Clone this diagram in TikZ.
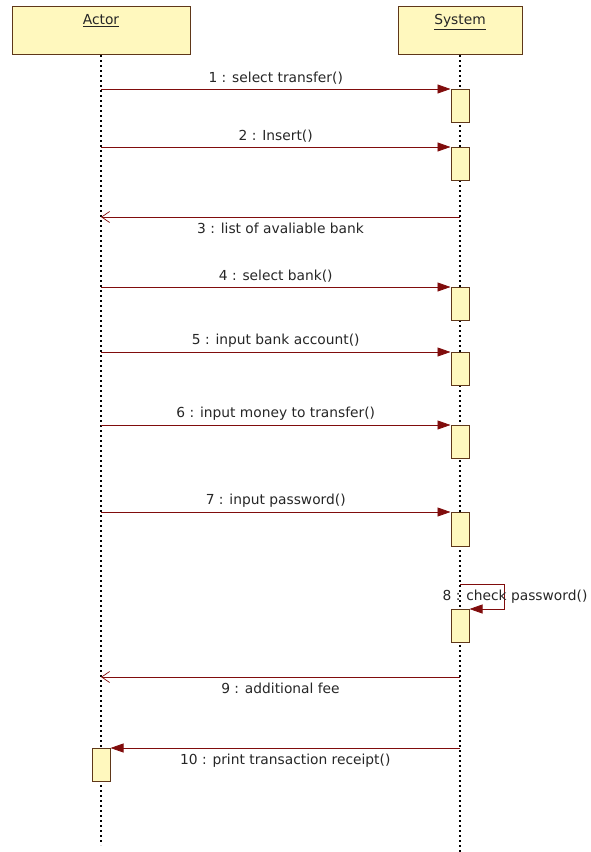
\documentclass[tikz,border=0pt]{standalone}
\usepackage{fontspec}
\setmainfont{DejaVu Sans}
\usetikzlibrary{arrows.meta}

\definecolor{msgred}{RGB}{128,12,12}
\definecolor{boxfill}{RGB}{255,248,190}
\definecolor{boxline}{RGB}{95,55,25}

\tikzset{
  head/.style={draw=boxline, fill=boxfill, line width=1pt, minimum width=#1,
    inner ysep=8pt, text height=10pt, text depth=22pt, anchor=north},
  act/.style={draw=boxline, fill=boxfill, line width=1pt, minimum width=18pt,
    minimum height=33pt, inner sep=0pt, anchor=north},
  lifeline/.style={line width=1.3pt, dash pattern=on 2pt off 3pt},
  call/.style={draw=msgred, line width=0.8pt, -{Triangle[length=13pt,width=9pt]}},
  reply/.style={draw=msgred, line width=0.8pt, -{Straight Barb[length=8pt,width=11pt,line width=0.7pt]}}
}

\begin{document}
\begin{tikzpicture}[x=1pt, y=-1pt, font=\fontsize{13.8}{16}\selectfont, text=black!85]
\useasboundingbox (0,0) rectangle (590,852);

	% objects
	\node[head=178pt] (actor) at (101,6) {\underline{Actor}};
	\node[head=124pt] (system) at (460,6) {\underline{System}};

	% lifelines
	\coordinate (actorend) at (101,845);
	\coordinate (systemend) at (460,852);
	\draw[lifeline] (actor.south) -- (actorend);
	\draw[lifeline] (system.south) -- (systemend);

	% activations
	\node[act] (act1) at (460,89) {};
	\node[act] (act2) at (460,147) {};
	\node[act] (act4) at (460,287) {};
	\node[act] (act5) at (460,352) {};
	\node[act] (act6) at (460,425) {};
	\node[act, minimum height=34pt] (act7) at (460,512) {};
	\node[act] (act8) at (460,609) {};
	\node[act] (act10) at (101,748) {};

	% message ends on the lifelines
	\coordinate (a1) at (101,89);
	\coordinate (a2) at (101,147);
	\coordinate (a3) at (101,217);
	\coordinate (s3) at (460,217);
	\coordinate (a4) at (101,287);
	\coordinate (a5) at (101,352);
	\coordinate (a6) at (101,425);
	\coordinate (a7) at (101,512);
	\coordinate (s8) at (460,584);
	\coordinate (a9) at (101,677);
	\coordinate (s9) at (460,677);
	\coordinate (s10) at (460,748);

	% messages
	\path (a1) edge[call] node[above=1pt] {1 : select transfer()} (act1.north west);
	\path (a2) edge[call] node[above=1pt] {2 : Insert()} (act2.north west);
	\path (s3) edge[reply] node[below=2pt] {3 : list of avaliable bank} (a3);
	\path (a4) edge[call] node[above=1pt] {4 : select bank()} (act4.north west);
	\path (a5) edge[call] node[above=1pt] {5 : input bank account()} (act5.north west);
	\path (a6) edge[call] node[above=1pt] {6 : input money to transfer()} (act6.north west);
	\path (a7) edge[call] node[above=1pt] {7 : input password()} (act7.north west);
	\draw[call] (s8) -- ++(44,0) |- (act8.north east);
	\node (check) at (515,597) {8 : check password()};
	\path (s9) edge[reply] node[below=2pt] {9 : additional fee} (a9);
	\path (s10) edge[call] node[below=2pt] {10 : print transaction receipt()} (act10.north east);

\end{tikzpicture}
\end{document}
